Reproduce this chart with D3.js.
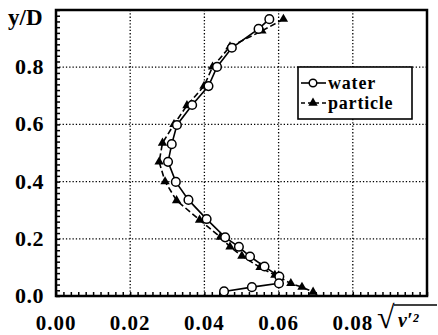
<!DOCTYPE html>
<html>
<head>
<meta charset="utf-8">
<script src="https://cdn.jsdelivr.net/npm/d3@7"></script>
<style>
	body { margin: 0; background: #fff; }
	svg { display: block; }
	text { font-family: "Liberation Serif", "Times New Roman", serif; font-weight: bold; fill: #000; }
</style>
</head>
<body>
<svg class="chart" width="438" height="335"></svg>
<script>
// water (open circles), bottom of list = near wall
const waterX = [0.0575, 0.0546, 0.0474, 0.0434, 0.0411, 0.0367, 0.0326, 0.0312, 0.0302, 0.0323,
	0.0357, 0.0406, 0.0456, 0.0493, 0.0523, 0.0562, 0.0602, 0.0601, 0.0528, 0.0453];
const waterY = [0.968, 0.934, 0.868, 0.801, 0.734, 0.668, 0.598, 0.531, 0.469, 0.399,
	0.336, 0.269, 0.205, 0.172, 0.138, 0.103, 0.068, 0.044, 0.031, 0.016];
// particle (filled triangles)
const particleX = [0.0613, 0.0555, 0.0469, 0.0422, 0.0399, 0.0353, 0.0318, 0.0287, 0.0278, 0.0294,
	0.0325, 0.0387, 0.0443, 0.0469, 0.0501, 0.0550, 0.0590, 0.0633, 0.0663, 0.0693];
const particleY = [0.968, 0.927, 0.872, 0.801, 0.734, 0.666, 0.600, 0.535, 0.469, 0.400,
	0.334, 0.266, 0.206, 0.172, 0.140, 0.100, 0.073, 0.044, 0.031, 0.014];
const xTicks = [0, 0.02, 0.04, 0.06, 0.08];
const yTicks = [0, 0.2, 0.4, 0.6, 0.8];
const seriesNames = ['water', 'particle'];

const margin = {top: 10, left: 56, bottom: 39, right: 11};
const W = 438, H = 335;
const width = W - margin.left - margin.right;
const height = H - margin.top - margin.bottom;

const xScale = d3.scaleLinear().domain([0, 0.1]).range([0, width]);
const yScale = d3.scaleLinear().domain([0, 1]).range([height, 0]);

const svg = d3.select('.chart');
const chart = svg.append('g')
	.attr('transform', `translate(${margin.left}, ${margin.top})`);

// dotted grid
chart.append('g')
	.selectAll('line')
	.data(xTicks.filter(d => d > 0))
	.enter().append('line')
	.attr('x1', d => xScale(d)).attr('x2', d => xScale(d))
	.attr('y1', 0).attr('y2', height)
	.attr('stroke', '#000').attr('stroke-width', 1.3).attr('stroke-dasharray', '1.3,2');
chart.append('g')
	.selectAll('line')
	.data(yTicks.filter(d => d > 0))
	.enter().append('line')
	.attr('y1', d => yScale(d)).attr('y2', d => yScale(d))
	.attr('x1', 0).attr('x2', width)
	.attr('stroke', '#000').attr('stroke-width', 1.3).attr('stroke-dasharray', '1.3,2');

// inward minor ticks
const xMinor = d3.range(0, 0.1001, 0.002);
const yMinor = d3.range(0, 1.0001, 0.02);
const xAxis = d3.axisBottom(xScale).tickValues(xMinor).tickSize(-4).tickFormat('');
const yAxis = d3.axisLeft(yScale).tickValues(yMinor).tickSize(-4).tickFormat('');
chart.append('g')
	.attr('transform', `translate(0, ${height})`)
	.call(xAxis)
	.call(g => g.select('.domain').remove())
	.selectAll('line').attr('stroke-width', 1.5);
chart.append('g')
	.call(yAxis)
	.call(g => g.select('.domain').remove())
	.selectAll('line').attr('stroke-width', 1.5);

// frame
chart.append('rect')
	.attr('width', width).attr('height', height)
	.attr('fill', 'none').attr('stroke', '#000').attr('stroke-width', 2.5);

// tick labels
chart.append('g')
	.selectAll('text')
	.data(yTicks)
	.enter().append('text')
	.attr('x', -12).attr('y', d => yScale(d) + 7)
	.attr('text-anchor', 'end')
	.attr('font-size', 22)
	.attr('letter-spacing', 0.5)
	.text(d => d.toFixed(1));
chart.append('g')
	.selectAll('text')
	.data(xTicks)
	.enter().append('text')
	.attr('x', d => xScale(d)).attr('y', height + 34)
	.attr('text-anchor', 'middle')
	.attr('font-size', 21)
	.attr('letter-spacing', 1)
	.text(d => d.toFixed(2));

// axis titles
svg.append('text').attr('x', 8).attr('y', 25).attr('font-size', 23).text('y/D');
svg.append('text').attr('x', 377).attr('y', 328).attr('font-size', 32)
	.attr('font-weight', 'normal').text('√');
svg.append('line').attr('x1', 394).attr('x2', 437).attr('y1', 305).attr('y2', 305)
	.attr('stroke', '#000').attr('stroke-width', 1.6);
svg.append('text').attr('x', 398).attr('y', 327).attr('font-size', 20)
	.attr('font-style', 'italic').attr('font-weight', 'normal').text('ν′²');

// series
const water = waterX.map((x, i) => [x, waterY[i]]);
const particle = particleX.map((x, i) => [x, particleY[i]]);
const line = d3.line().x(d => xScale(d[0])).y(d => yScale(d[1]));
const tri = d3.symbol().type(d3.symbolTriangle).size(38);

chart.append('path').datum(particle)
	.attr('d', line).attr('fill', 'none')
	.attr('stroke', '#000').attr('stroke-width', 1.6).attr('stroke-dasharray', '6,3');
chart.append('path').datum(water)
	.attr('d', line).attr('fill', 'none')
	.attr('stroke', '#000').attr('stroke-width', 1.6);
chart.append('g')
	.selectAll('path')
	.data(particle)
	.enter().append('path')
	.attr('d', tri)
	.attr('transform', d => `translate(${xScale(d[0])}, ${yScale(d[1])})`)
	.attr('fill', '#000');
chart.append('g')
	.selectAll('circle')
	.data(water)
	.enter().append('circle')
	.attr('cx', d => xScale(d[0])).attr('cy', d => yScale(d[1]))
	.attr('r', 4.3)
	.attr('fill', '#fff').attr('stroke', '#000').attr('stroke-width', 1.5);

// legend
const legend = svg.append('g').attr('transform', 'translate(298, 67)');
legend.append('rect').attr('width', 114).attr('height', 52)
	.attr('fill', '#fff').attr('stroke', '#000').attr('stroke-width', 1.6);
const rows = legend.selectAll('g.row')
	.data(seriesNames)
	.enter().append('g')
	.attr('class', 'row')
	.attr('transform', (d, i) => `translate(0, ${16 + i * 20})`);
rows.append('line')
	.attr('x1', 3).attr('x2', 28)
	.attr('stroke', '#000').attr('stroke-width', 1.6)
	.attr('stroke-dasharray', (d, i) => i ? '4,3' : null);
rows.filter((d, i) => i === 0).append('circle')
	.attr('cx', 15).attr('r', 3.8)
	.attr('fill', '#fff').attr('stroke', '#000').attr('stroke-width', 1.5);
rows.filter((d, i) => i === 1).append('path')
	.attr('d', tri).attr('transform', 'translate(15, 0)').attr('fill', '#000');
rows.append('text')
	.attr('x', 30).attr('y', 6)
	.attr('font-size', 18)
	.attr('letter-spacing', 0.8)
	.text(d => d);
</script>
</body>
</html>
